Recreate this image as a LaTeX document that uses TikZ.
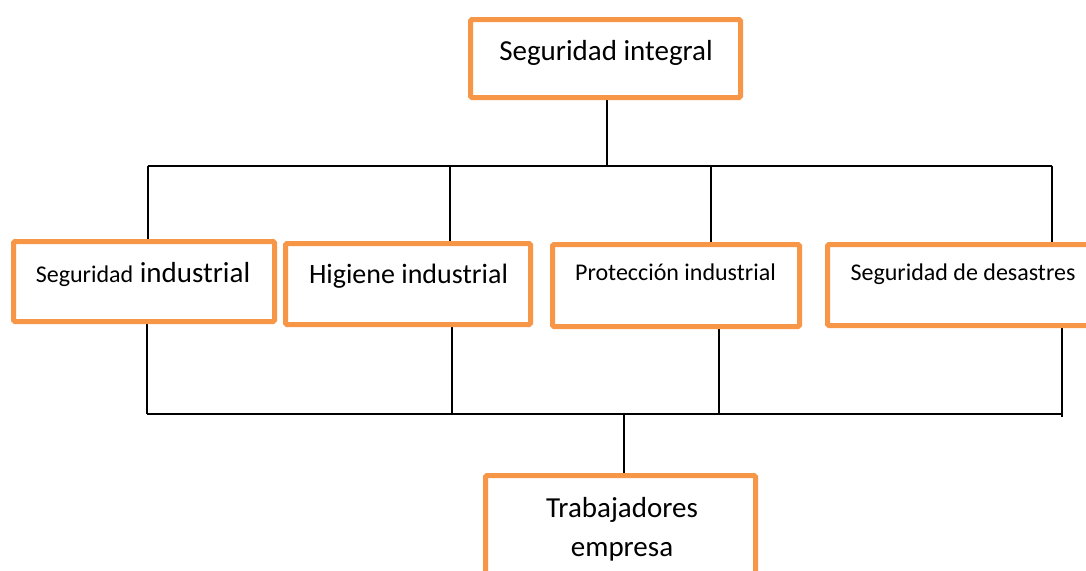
\documentclass[tikz,border=0pt]{standalone}
\usepackage{fontspec}
\setmainfont{Carlito}
\definecolor{boxorange}{HTML}{F79646}
\pgfdeclarelayer{background}
\pgfsetlayers{background,main}
\begin{document}
\begin{tikzpicture}[x=1pt,y=-1pt,
  box/.style={draw=boxorange, line width=5pt, rounded corners=1.5pt, inner sep=0pt},
  conn/.style={draw=black, line width=1.8pt},
  lbl/.style={anchor=base, inner sep=0pt},
  big/.style={font=\fontsize{29}{35}\selectfont},
  small/.style={font=\fontsize{24}{29}\selectfont}]
\useasboundingbox (0,0) rectangle (1086,570);
\clip (0,0) rectangle (1086,570);
% boxes
\node[box, minimum width=270pt, minimum height=78pt] (top) at (605.5,58.5) {};
\node[box, minimum width=261pt, minimum height=80pt] (b1) at (144,281.5) {};
\node[box, minimum width=245pt, minimum height=81pt] (b2) at (408,284) {};
\node[box, minimum width=247pt, minimum height=82pt] (b3) at (676,285.5) {};
\node[box, minimum width=271pt, minimum height=81pt] (b4) at (963,285) {};
\node[box, minimum width=270pt, minimum height=150pt] (b5) at (620.5,550.5) {};
% labels
\node[lbl, big] (t0) at (606,60) {Seguridad integral};
\node[lbl] (t1) at (143,282) {{\fontsize{24}{29}\selectfont Seguridad}{\fontsize{29}{35}\selectfont{} industrial}};
\node[lbl, font=\fontsize{28}{34}\selectfont] (t2) at (408.5,283.3) {Higiene industrial};
\node[lbl, small] (t3) at (675.5,280) {Protección industrial};
\node[lbl, small] (t4) at (963,280.7) {Seguridad de desastres};
\node[lbl, big] (t5a) at (622,517) {Trabajadores};
\node[lbl, big] (t5b) at (622,556.7) {empresa};
% junction points
\coordinate (J1) at (607,166);
\coordinate (L1) at (148,166);
\coordinate (d2) at (450,166);
\coordinate (d3) at (711,166);
\coordinate (R1) at (1052,166);
\coordinate (e1) at (147,414);
\coordinate (e2) at (452,414);
\coordinate (e3) at (719,414);
\coordinate (e4) at (1062,414);
\coordinate (e4end) at (1062,417);
\coordinate (e5) at (624,414);
\begin{pgfonlayer}{background}
\draw[conn] (top.south -| J1) -- (J1);
\draw[conn] (L1) -- (R1);
\draw[conn] (L1) -- (b1.north -| L1);
\draw[conn] (d2) -- (b2.north -| d2);
\draw[conn] (d3) -- (b3.north -| d3);
\draw[conn] (R1) -- (b4.north -| R1);
\draw[conn] (b1.south -| e1) -- (e1);
\draw[conn] (b2.south -| e2) -- (e2);
\draw[conn] (b3.south -| e3) -- (e3);
\draw[conn] (b4.south -| e4) -- (e4end);
\draw[conn] (e1) -- (e4);
\draw[conn] (e5) -- (b5.north -| e5);
\end{pgfonlayer}
\end{tikzpicture}
\end{document}
